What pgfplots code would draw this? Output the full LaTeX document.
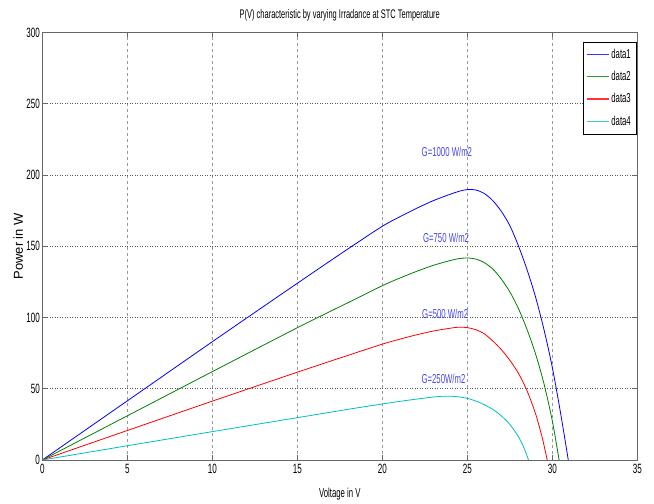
\documentclass[border=0pt]{standalone}
\usepackage{pgfplots}
\pgfplotsset{compat=1.18}
\usepackage{fontspec}
\setmainfont[FakeStretch=0.6]{Liberation Sans}
\newfontfamily\ylabfont{Liberation Sans}
\usetikzlibrary{calc}
\definecolor{mblue}{rgb}{0,0,1}
\definecolor{mgreen}{rgb}{0,0.5,0}
\definecolor{mred}{rgb}{1,0,0}
\definecolor{mcyan}{rgb}{0,0.75,0.75}
\definecolor{anncol}{RGB}{70,70,240}
\begin{document}
\begin{tikzpicture}
\begin{axis}[
  scale only axis, width=595bp, height=427.5bp,
  xmin=0, xmax=35, ymin=0, ymax=300,
  xtick={0,5,...,35}, ytick={0,50,...,300},
  tick align=inside, major tick length=5bp,
  axis line style={black!60, line width=0.8bp},
  tick style={black!60, line width=0.6bp},
  grid=major,
  x grid style={gray!80, dash pattern=on 3bp off 3bp, line width=0.6bp},
  y grid style={black!65, dash pattern=on 1bp off 1.5bp, line width=0.8bp},
  /pgf/number format/assume math mode=true,
  ticklabel style={font=\fontsize{13.5}{14}\selectfont},
  xticklabel style={yshift=-1bp},
  yticklabel style={xshift=1bp},
  title={P(V) characteristic by varying Irradance at STC Temperature},
  title style={at={(axis description cs:0.5,1.027)}, anchor=center, font=\fontsize{12.5}{14}\selectfont},
  xlabel={Voltage in V},
  xlabel style={at={(axis description cs:0.5,-0.0795)}, anchor=center, font=\fontsize{13}{14}\selectfont},
  ylabel={Power in W},
  ylabel style={at={(axis description cs:-0.0403,0.5)}, anchor=center, font=\ylabfont\fontsize{13}{14}\selectfont},
  legend cell align=left,
  legend image code/.code={\draw[#1, line width=1.5bp, opacity=0.8] (0bp,0bp) -- (22bp,0bp);},
  legend style={at={(axis description cs:0.9978,0.9785)}, anchor=north east,
    fill=white, draw=black, font=\fontsize{13}{14}\selectfont,
    inner xsep=3bp, inner ysep=5bp, row sep=7.5bp},
  every axis plot/.append style={line width=0.8bp, smooth, tension=0.5},
  clip=false,
]
\addplot[color=mblue] coordinates {
(0,0) (5,41.5) (10,83) (15,124) (18,148.3) (20,164) (21,170.5) (22,176.5) (23,182) (24,186.5) (24.5,188.5) (25,189.8) (25.5,189.5) (26,187) (26.5,182) (27,174.5) (27.5,164.5) (28,150.5) (28.5,134) (29,115) (29.5,92) (30,65) (30.5,32) (30.94,0)};
\addlegendentry{data1}
\addplot[color=mgreen] coordinates {
(0,0) (5,31) (10,62) (15,92.8) (18,110.5) (20,122.3) (21,127.5) (22,132.3) (23,136.6) (24,140) (24.5,141.3) (25,141.8) (25.5,141) (26,138.5) (26.5,134) (27,127) (27.5,118) (28,106.5) (28.5,92) (29,75) (29.5,54) (30,27.5) (30.4,0)};
\addlegendentry{data2}
\addplot[color=mred] coordinates {
(0,0) (5,20.7) (10,41.3) (15,61.6) (18,73.5) (20,81.3) (21,84.7) (22,87.8) (23,90.5) (24,92.5) (24.5,93.2) (25,92.9) (25.5,91.4) (26,88.6) (26.5,83.5) (27,77.5) (27.5,70) (28,61) (28.5,49) (29,33) (29.4,16) (29.7,0)};
\addlegendentry{data3}
\addplot[color=mcyan] coordinates {
(0,0) (5,10) (10,19.9) (15,29.7) (18,35.6) (20,39.3) (21,41.1) (22,42.7) (23,44.2) (23.5,44.7) (24,44.8) (24.5,44.3) (25,43.3) (25.5,41.4) (26,38.8) (26.5,35.5) (27,31) (27.5,25) (28,16.5) (28.3,9.5) (28.6,0)};
\addlegendentry{data4}
\node[anncol, font=\fontsize{13}{14}\selectfont] at (axis cs:23.8,216.4) {G=1000 W/m2};
\node[anncol, font=\fontsize{13}{14}\selectfont] at (axis cs:23.75,155.8) {G=750 W/m2};
\node[anncol, font=\fontsize{13}{14}\selectfont] at (axis cs:23.7,102.5) {G=500 W/m2};
\node[anncol, font=\fontsize{13}{14}\selectfont] at (axis cs:23.6,56.8) {G=250W/m2};
\end{axis}
\pgfresetboundingbox
\path ($(current axis.south west)+(-42.3bp,-44bp)$) rectangle ($(current axis.north east)+(16.7bp,32.5bp)$);
\end{tikzpicture}
\end{document}
